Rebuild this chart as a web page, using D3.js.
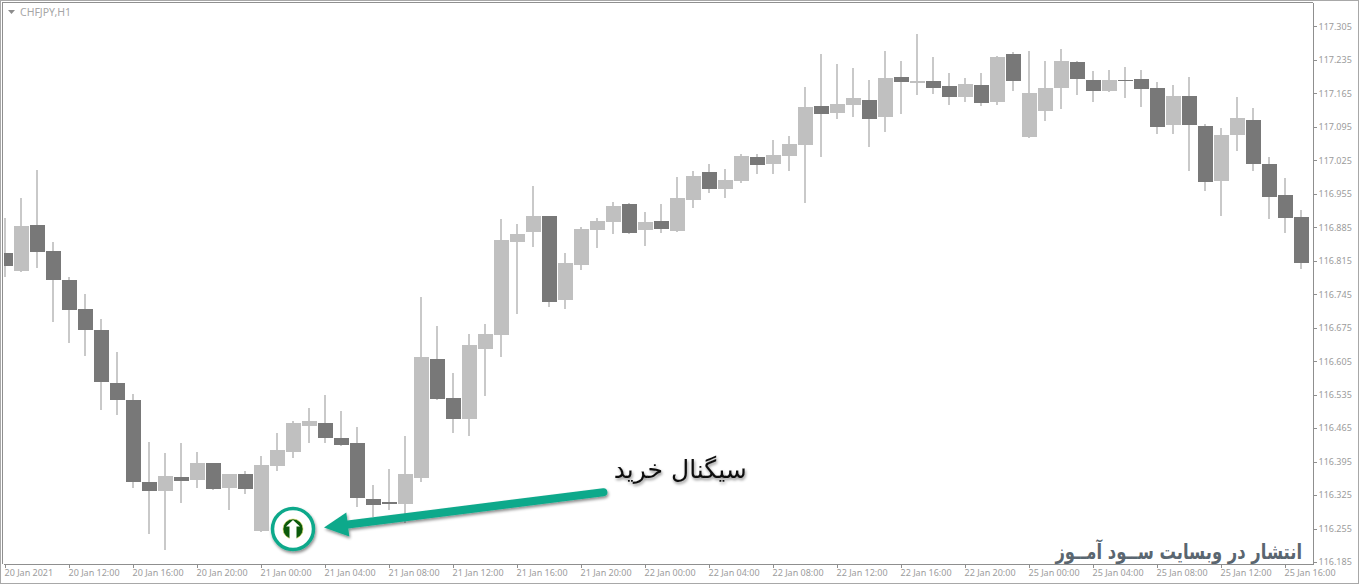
<html>
<head>
<meta charset="utf-8">
<title>CHFJPY,H1</title>
<style>
    html, body { margin: 0; padding: 0; background: #fff; }
    svg { display: block; }
    text { font-family: "Noto Sans", sans-serif; }
    .axis text { font-size: 9px; fill: #9c9c9c; }
    .axis path, .axis line { stroke: #8f8f8f; shape-rendering: crispEdges; }
    .wick { stroke: #c9c9c9; stroke-width: 2px; shape-rendering: crispEdges; }
    .up { fill: #c0c0c0; shape-rendering: crispEdges; }
    .down { fill: #787878; shape-rendering: crispEdges; }
    .fa { font-family: "DejaVu Sans", sans-serif; direction: rtl; }
</style>
<script src="https://d3js.org/d3.v7.min.js"></script>
</head>
<body>
<script>
    // hourly candles, 20 Jan 2021 08:00 onwards
    const opens = [116.831,116.794,116.890,116.835,116.775,116.714,116.670,116.559,116.524,116.352,
        116.333,116.363,116.356,116.392,116.340,116.369,116.250,116.386,116.415,116.469,
        116.476,116.444,116.434,116.317,116.310,116.306,116.361,116.609,116.528,116.484,
        116.630,116.660,116.854,116.875,116.908,116.733,116.806,116.879,116.896,116.933,
        116.879,116.898,116.877,116.942,117.000,116.965,116.982,117.032,117.017,117.034,
        117.057,117.138,117.124,117.140,117.151,117.115,117.199,117.186,117.191,117.180,
        117.157,117.182,117.147,117.247,117.074,117.128,117.176,117.230,117.193,117.170,
        117.193,117.195,117.176,117.099,117.159,117.097,116.982,117.078,117.109,117.017,
        116.952,116.906];
    const highs = [116.904,116.947,117.005,116.855,116.781,116.745,116.693,116.624,116.536,116.436,
        116.413,116.434,116.415,116.392,116.369,116.375,116.407,116.455,116.480,116.507,
        116.534,116.501,116.467,116.346,116.379,116.448,116.739,116.678,116.580,116.662,
        116.683,116.902,116.892,116.971,116.908,116.831,116.885,116.904,116.938,116.936,
        116.917,116.934,116.990,117.002,117.017,117.007,117.038,117.038,117.067,117.076,
        117.178,117.247,117.226,117.218,117.193,117.253,117.232,117.289,117.241,117.207,
        117.197,117.207,117.243,117.251,117.253,117.232,117.258,117.232,117.212,117.214,
        117.220,117.214,117.189,117.182,117.199,117.101,117.092,117.157,117.134,117.032,
        116.988,116.921];
    const lows = [116.781,116.792,116.800,116.687,116.643,116.616,116.503,116.492,116.340,116.244,
        116.210,116.308,116.340,116.336,116.294,116.327,116.248,116.375,116.402,116.434,
        116.434,116.427,116.300,116.279,116.294,116.267,116.352,116.524,116.455,116.448,
        116.532,116.614,116.704,116.844,116.718,116.714,116.795,116.841,116.871,116.871,
        116.846,116.873,116.875,116.925,116.956,116.946,116.977,116.996,116.996,117.002,
        116.936,117.032,117.111,117.115,117.053,117.084,117.122,117.161,117.163,117.140,
        117.147,117.138,117.140,117.170,117.071,117.107,117.132,117.161,117.147,117.168,
        117.155,117.136,117.080,117.080,117.002,116.961,116.908,117.044,117.002,116.902,
        116.873,116.798];
    const closes = [116.804,116.887,116.834,116.775,116.712,116.670,116.561,116.524,116.352,116.333,
        116.365,116.354,116.392,116.338,116.369,116.338,116.388,116.419,116.476,116.480,
        116.444,116.430,116.319,116.304,116.306,116.369,116.614,116.526,116.484,116.639,
        116.662,116.858,116.871,116.908,116.729,116.810,116.881,116.898,116.929,116.873,
        116.896,116.881,116.946,116.992,116.965,116.984,117.034,117.015,117.036,117.059,
        117.136,117.122,117.143,117.155,117.111,117.197,117.189,117.191,117.176,117.157,
        117.184,117.145,117.241,117.191,117.166,117.176,117.232,117.195,117.170,117.193,
        117.191,117.174,117.094,117.159,117.099,116.980,117.078,117.113,117.017,116.948,
        116.904,116.810];

    const priceTicks = [117.305,117.235,117.165,117.095,117.025,116.955,116.885,116.815,116.745,
        116.675,116.605,116.535,116.465,116.395,116.325,116.255,116.185];
    const timeLabels = ['20 Jan 2021','20 Jan 12:00','20 Jan 16:00','20 Jan 20:00','21 Jan 00:00',
        '21 Jan 04:00','21 Jan 08:00','21 Jan 12:00','21 Jan 16:00','21 Jan 20:00','22 Jan 00:00',
        '22 Jan 04:00','22 Jan 08:00','22 Jan 12:00','22 Jan 16:00','22 Jan 20:00','25 Jan 00:00',
        '25 Jan 04:00','25 Jan 08:00','25 Jan 12:00','25 Jan 16:00'];
    const timeTicks = timeLabels.map((_, i) => i * 4);

    // where the buy signal sits and where the arrow starts, in candle index / price
    const signalAt = [18, 116.254];
    const arrowFrom = [37.4, 116.331];
    const signalLabelAt = [42.2, 116.361];
    const chartTitle = 'CHFJPY,H1';
    const signalLabel = 'سیگنال خرید';
    const watermark = 'انتشار در وبسایت ســود آمــوز';

    const width = 1360, height = 584;
    const plotLeft = 4, plotRight = 1313, plotTop = 3, plotBottom = 564;
    const teal = '#10a98b';

    const x = d3.scaleLinear().domain([0, 81]).range([5, 1301]);
    const y = d3.scaleLinear().domain([116.185, 117.305]).range([562, 26.3]);

    const svg = d3.select('body').append('svg')
        .attr('width', width)
        .attr('height', height);

    const defs = svg.append('defs');
    defs.append('clipPath').attr('id', 'plot')
        .append('rect')
        .attr('x', plotLeft).attr('y', plotTop)
        .attr('width', plotRight - plotLeft).attr('height', plotBottom - plotTop);
    const shadow = defs.append('filter').attr('id', 'shadow')
        .attr('x', '-20%').attr('y', '-40%').attr('width', '140%').attr('height', '200%');
    shadow.append('feDropShadow')
        .attr('dx', 1).attr('dy', 2).attr('stdDeviation', 1.6)
        .attr('flood-color', '#000').attr('flood-opacity', 0.45);

    // window frame
    svg.append('rect')
        .attr('x', 0.5).attr('y', 0.5).attr('width', 1358).attr('height', 583)
        .attr('fill', 'none').attr('stroke', '#a8a8a8').attr('stroke-width', 1);
    svg.append('path')
        .attr('d', d3.line()([[plotLeft - 1.5, plotBottom], [plotLeft - 1.5, plotTop - 0.5], [plotRight, plotTop - 0.5]]))
        .attr('fill', 'none').attr('stroke', '#8f8f8f').attr('shape-rendering', 'crispEdges');

    // axes
    svg.append('g').attr('class', 'axis')
        .attr('transform', `translate(${plotRight + 0.5},0)`)
        .call(d3.axisRight(y).tickValues(priceTicks).tickFormat(d3.format('.3f')).tickSize(3).tickPadding(2))
        .call(g => g.select('.domain').attr('d', `M0,${plotTop}V${plotBottom + 1}`));

    const xAxis = svg.append('g').attr('class', 'axis')
        .attr('transform', `translate(0,${plotBottom + 0.5})`)
        .call(d3.axisBottom(x).tickValues(timeTicks).tickFormat((d, i) => timeLabels[i]).tickSize(3).tickPadding(2))
        .call(g => g.select('.domain').attr('d', `M${plotLeft},0H${plotRight}`));
    xAxis.selectAll('text').attr('text-anchor', 'start').attr('dx', -1);

    // candles
    const candles = d3.range(opens.length).map(i => ({
        i, open: opens[i], high: highs[i], low: lows[i], close: closes[i]
    }));
    const plot = svg.append('g').attr('clip-path', 'url(#plot)');

    plot.selectAll('line.wick').data(candles).join('line')
        .attr('class', 'wick')
        .attr('x1', d => x(d.i)).attr('x2', d => x(d.i))
        .attr('y1', d => y(d.high)).attr('y2', d => y(d.low));

    plot.selectAll('rect.body').data(candles).join('rect')
        .attr('class', d => 'body ' + (d.close >= d.open ? 'up' : 'down'))
        .attr('x', d => x(d.i) - 7)
        .attr('width', 15)
        .attr('y', d => y(Math.max(d.open, d.close)))
        .attr('height', d => Math.max(1, Math.abs(y(d.open) - y(d.close))));

    // title
    svg.append('path')
        .attr('d', 'M8,10h7l-3.5,4z')
        .attr('fill', '#8c8c8c');
    svg.append('text')
        .attr('x', 20).attr('y', 15.5)
        .attr('font-size', 10.5)
        .attr('fill', '#a6a6a6')
        .text(chartTitle);

    // buy signal marker
    const sx = x(signalAt[0]), sy = y(signalAt[1]);
    const marker = svg.append('g').attr('transform', `translate(${sx},${sy})`);
    marker.append('circle')
        .attr('r', 20.5)
        .attr('fill', '#fff')
        .attr('stroke', teal)
        .attr('stroke-width', 3.5)
        .attr('filter', 'url(#shadow)');
    marker.append('circle').attr('r', 10).attr('fill', '#0b5a0c')
        .attr('stroke', '#d9d65a').attr('stroke-width', 0.6);
    marker.append('path')
        .attr('d', 'M0,-9L7,-2.5H3.5V11H-3.5V-2.5H-7z')
        .attr('fill', '#fff');

    // arrow pointing at the marker
    const ax = x(arrowFrom[0]), ay = y(arrowFrom[1]);
    const tipX = sx + 31, tipY = sy - 1.5;
    const ang = Math.atan2(ay - tipY, ax - tipX);
    const along = (d, off) => [
        tipX + d * Math.cos(ang) - off * Math.sin(ang),
        tipY + d * Math.sin(ang) + off * Math.cos(ang)
    ];
    const arrow = svg.append('g').attr('filter', 'url(#shadow)');
    arrow.append('line')
        .attr('x1', ax).attr('y1', ay)
        .attr('x2', along(20, 0)[0]).attr('y2', along(20, 0)[1])
        .attr('stroke', teal).attr('stroke-width', 8).attr('stroke-linecap', 'round');
    arrow.append('path')
        .attr('d', d3.line()([[tipX, tipY], along(24, -12), along(24, 12)]) + 'Z')
        .attr('fill', teal);

    // persian captions
    svg.append('text')
        .attr('class', 'fa')
        .attr('x', x(signalLabelAt[0])).attr('y', y(signalLabelAt[1]))
        .attr('text-anchor', 'middle')
        .attr('font-size', 25)
        .attr('fill', '#111')
        .attr('filter', 'url(#shadow)')
        .text(signalLabel);
    svg.append('g')
        .attr('transform', 'translate(1302,559) scale(0.78,1)')
        .append('text')
        .attr('class', 'fa')
        .attr('text-anchor', 'start')
        .attr('font-size', 21)
        .attr('font-weight', 'bold')
        .attr('fill', '#5a6670')
        .text(watermark);
</script>
</body>
</html>
